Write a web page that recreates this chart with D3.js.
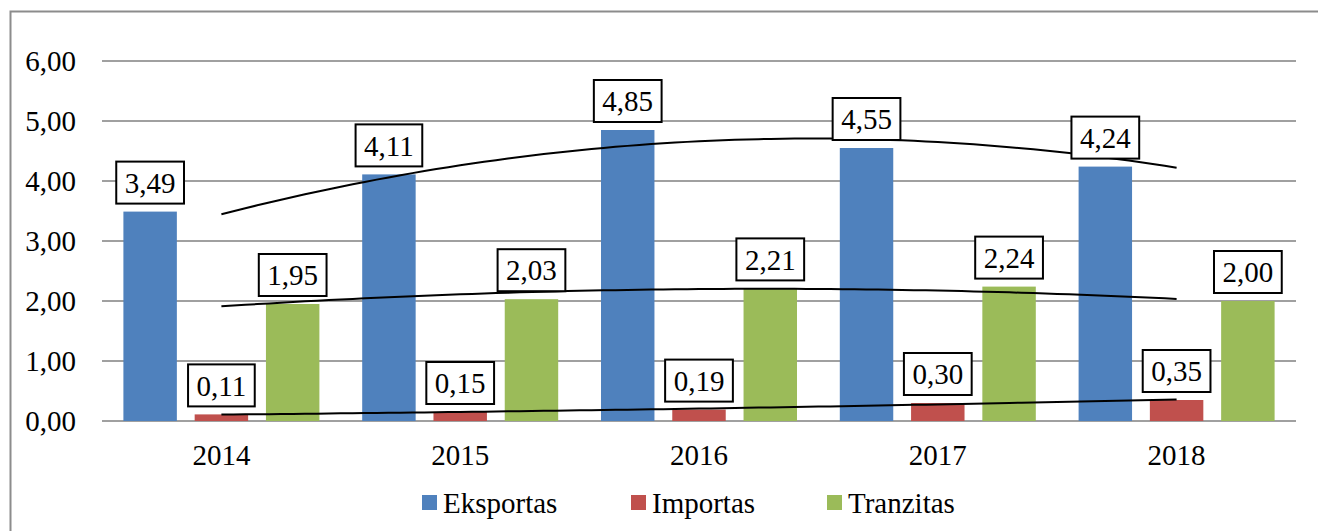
<!DOCTYPE html>
<html><head><meta charset="utf-8">
<script src="https://cdn.jsdelivr.net/npm/d3@7"></script>
<style>body{margin:0;background:#fff}svg{display:block}</style>
</head><body><svg id="c" width="1318" height="531"></svg>
<script>
const years = ["2014","2015","2016","2017","2018"];
const seriesNames = ["Eksportas","Importas","Tranzitas"];
const eksportas = [3.49,4.11,4.85,4.55,4.24];
const importas = [0.11,0.15,0.19,0.30,0.35];
const tranzitas = [1.95,2.03,2.21,2.24,2.00];
const yTicks = [0,1,2,3,4,5,6];
const colors = ["#4F81BD","#C0504D","#9BBB59"];
const seriesValues = [eksportas, importas, tranzitas];

const svg = d3.select("#c");
const fmt = v => v.toFixed(2).replace(".", ",");
const fs = 29;
const FF = "Liberation Serif";

svg.append("rect").attr("x",10.5).attr("y",11.5).attr("width",1320).attr("height",540)
  .attr("fill","none").attr("stroke","#8c8c8c").attr("stroke-width",2);

const x0 = d3.scaleBand().domain(years).range([102,1296]).paddingInner(0).paddingOuter(0);
const y = d3.scaleLinear().domain([0,6]).range([421,61]);
const x1 = d3.scaleBand().domain(seriesNames).range([-98,98]).paddingInner(0.25).paddingOuter(0);

svg.append("g").selectAll("line").data(yTicks).join("line")
  .attr("x1",102).attr("x2",1296).attr("y1",d=>y(d)).attr("y2",d=>y(d))
  .attr("stroke","#a0a0a0").attr("stroke-width",2);

svg.append("g").selectAll("text").data(yTicks).join("text")
  .attr("x",76).attr("y",d=>y(d)).attr("dy","0.35em").attr("text-anchor","end")
  .attr("font-family",FF).attr("font-size",fs).text(d=>fmt(d));

seriesValues.forEach((vals,si)=>{
  svg.append("g").selectAll("rect").data(vals).join("rect")
    .attr("x",(d,i)=>x0(years[i])+x0.bandwidth()/2+x1(seriesNames[si]))
    .attr("width",x1.bandwidth())
    .attr("y",d=>y(d)).attr("height",d=>y(0)-y(d))
    .attr("fill",colors[si]);
});

function quadFit(vals){
  const xs=vals.map((_,i)=>i+1);
  let S=[0,0,0,0,0], T=[0,0,0];
  xs.forEach((xv,i)=>{for(let k=0;k<5;k++)S[k]+=Math.pow(xv,k); for(let k=0;k<3;k++)T[k]+=vals[i]*Math.pow(xv,k);});
  const A=[[S[0],S[1],S[2],T[0]],[S[1],S[2],S[3],T[1]],[S[2],S[3],S[4],T[2]]];
  for(let i=0;i<3;i++){for(let j=i+1;j<3;j++){const f=A[j][i]/A[i][i];for(let k=i;k<4;k++)A[j][k]-=f*A[i][k];}}
  const c=[0,0,0];
  for(let i=2;i>=0;i--){let s=A[i][3];for(let k=i+1;k<3;k++)s-=A[i][k]*c[k];c[i]=s/A[i][i];}
  return t=>c[0]+c[1]*t+c[2]*t*t;
}
const xc = d3.scaleLinear().domain([1,5]).range([x0(years[0])+x0.bandwidth()/2, x0(years[4])+x0.bandwidth()/2]);
seriesValues.forEach(vals=>{
  const f=quadFit(vals);
  const pts=d3.range(1,5.0001,0.05).map(t=>[xc(t),y(f(t))]);
  svg.append("path").attr("d",d3.line()(pts)).attr("fill","none").attr("stroke","#000").attr("stroke-width",2);
});

seriesValues.forEach((vals,si)=>{
  vals.forEach((v,i)=>{
    const cx=x0(years[i])+x0.bandwidth()/2+x1(seriesNames[si])+x1.bandwidth()/2;
    const g=svg.append("g");
    const bottom=y(v)-8, h=42;
    const t=g.append("text").attr("x",cx).attr("y",bottom-h/2).attr("dy","0.35em")
      .attr("text-anchor","middle").attr("font-family",FF).attr("font-size",fs).text(fmt(v));
    const w=t.node().getComputedTextLength()+17;
    g.insert("rect","text").attr("x",cx-w/2).attr("y",bottom-h).attr("width",w).attr("height",h)
      .attr("fill","#fff").attr("stroke","#000").attr("stroke-width",2);
  });
});

svg.append("g").selectAll("text").data(years).join("text")
  .attr("x",d=>x0(d)+x0.bandwidth()/2).attr("y",465).attr("text-anchor","middle")
  .attr("font-family",FF).attr("font-size",fs).text(d=>d);

const legX=[422,631,827];
seriesNames.forEach((n,i)=>{
  svg.append("rect").attr("x",legX[i]).attr("y",495).attr("width",15).attr("height",15).attr("fill",colors[i]);
  svg.append("text").attr("x",legX[i]+21).attr("y",513).attr("font-family",FF).attr("font-size",fs).text(n);
});
</script></body></html>
